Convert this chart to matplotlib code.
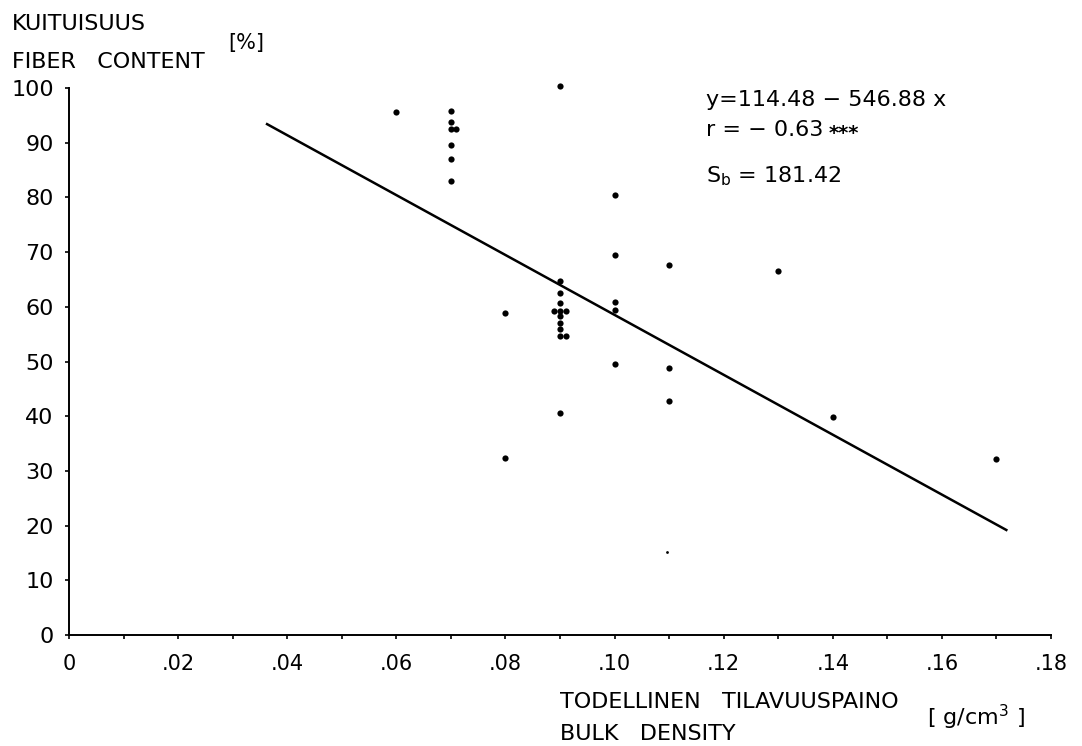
import matplotlib.pyplot as plt
from matplotlib.ticker import FixedLocator, MultipleLocator

# bulk density [g/cm3] vs fiber content [%]
density = [0.060,
           0.070, 0.070, 0.070, 0.071, 0.070, 0.070, 0.070,
           0.080, 0.080,
           0.090, 0.090, 0.090, 0.090, 0.0889, 0.090, 0.0911, 0.090, 0.090, 0.090, 0.090, 0.0911, 0.090,
           0.100, 0.100, 0.100, 0.100, 0.100,
           0.110, 0.110, 0.110,
           0.130, 0.140, 0.170]
fiber = [95.6,
         95.8, 93.8, 92.5, 92.5, 89.6, 87.0, 83.0,
         58.8, 32.3,
         100.4, 64.7, 62.5, 60.7, 59.2, 59.2, 59.2, 58.3, 57.0, 55.9, 54.7, 54.7, 40.6,
         80.4, 69.5, 60.9, 59.4, 49.5,
         67.6, 48.8, 42.8,
         66.5, 39.9, 32.2]

# faint speck near the x-axis
faint_x = [0.1096]
faint_y = [15.2]

# regression line as drawn
line_x = [0.0363, 0.1718]
line_y = [93.4, 19.2]

x_ticks = [0, 0.02, 0.04, 0.06, 0.08, 0.10, 0.12, 0.14, 0.16, 0.18]
x_tick_labels = ["0", ".02", ".04", ".06", ".08", ".10", ".12", ".14", ".16", ".18"]
y_ticks = list(range(0, 101, 10))

plt.rcParams['font.family'] = ['DejaVu Sans']

fig = plt.figure(figsize=(10.82, 7.46), dpi=100)
ax = fig.add_axes([0.0638, 0.1488, 0.9076, 0.7332])

ax.scatter(density, fiber, s=20, color='black', linewidths=0, zorder=3, clip_on=False)
ax.scatter(faint_x, faint_y, s=4, color='black', linewidths=0, zorder=3)
ax.plot(line_x, line_y, color='black', lw=1.8)

ax.set_xlim(0, 0.18)
ax.set_ylim(0, 100)
ax.spines['top'].set_visible(False)
ax.spines['right'].set_visible(False)
for s in ['left', 'bottom']:
    ax.spines[s].set_linewidth(1.4)

ax.xaxis.set_major_locator(FixedLocator(x_ticks))
ax.set_xticklabels(x_tick_labels)
ax.xaxis.set_minor_locator(MultipleLocator(0.01))
ax.set_yticks(y_ticks)
ax.tick_params(axis='x', which='both', direction='out', length=3, width=1.2, pad=11, labelsize=15)
ax.tick_params(axis='y', direction='out', length=3, width=1.2, pad=8, labelsize=16)

# axis titles
fig.text(12 / 1082, 1 - 30 / 746, "KUITUISUUS", fontsize=16, ha='left', va='baseline')
fig.text(12 / 1082, 1 - 68 / 746, "FIBER   CONTENT", fontsize=16, ha='left', va='baseline')
fig.text(228 / 1082, 1 - 49 / 746, "[%]", fontsize=15, ha='left', va='baseline')

fig.text(560 / 1082, 1 - 708 / 746, "TODELLINEN   TILAVUUSPAINO", fontsize=16, ha='left', va='baseline')
fig.text(560 / 1082, 1 - 740 / 746, "BULK   DENSITY", fontsize=16, ha='left', va='baseline')
fig.text(927 / 1082, 1 - 725 / 746, "[ g/cm$^3$ ]", fontsize=16, ha='left', va='baseline')

# regression statistics
fig.text(706 / 1082, 1 - 106 / 746, "y=114.48 − 546.88 x", fontsize=16, ha='left', va='baseline')
fig.text(706 / 1082, 1 - 136 / 746, "r = − 0.63", fontsize=16, ha='left', va='baseline')
fig.text(829 / 1082, 1 - 139 / 746, "***", fontsize=14, ha='left', va='baseline', weight='bold')
fig.text(706 / 1082, 1 - 182 / 746, "S$_\\mathregular{b}$ = 181.42", fontsize=16, ha='left', va='baseline')

fig.savefig("out.png", dpi=100)
